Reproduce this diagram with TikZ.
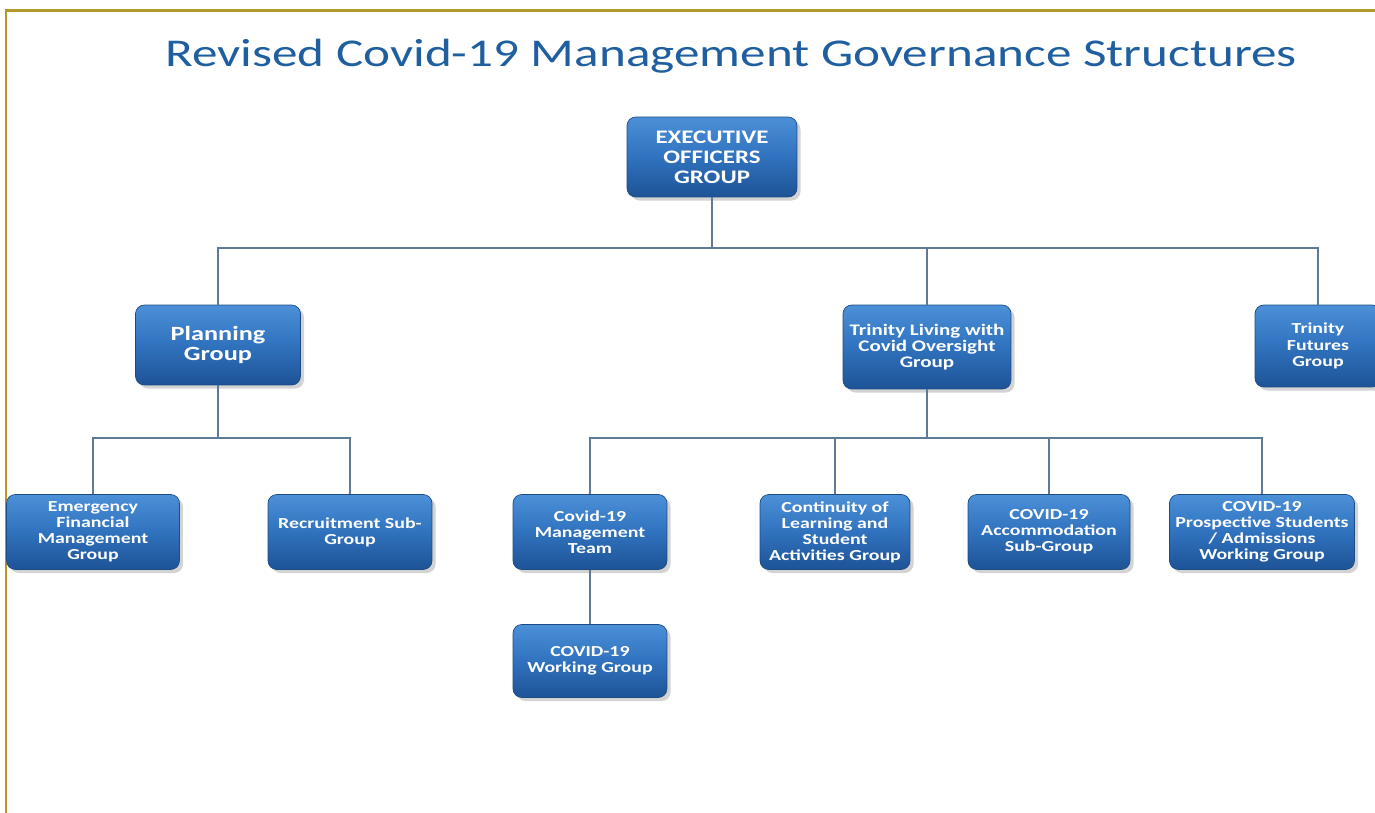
\documentclass[tikz,border=0pt]{standalone}
\usepackage{fontspec}
\setmainfont{Carlito}[FakeStretch=1.3]
\usetikzlibrary{shadows}

\definecolor{titleblue}{HTML}{1F5FA0}
\definecolor{boxtop}{HTML}{4C90D8}
\definecolor{boxmid}{HTML}{3072BE}
\definecolor{boxbot}{HTML}{1E5396}
\definecolor{boxedge}{HTML}{1B4A85}
\definecolor{linkgray}{HTML}{5F7A96}
\definecolor{framegold}{HTML}{B4962A}

\begin{document}
\begin{tikzpicture}[
	x=0.02cm,
	y=-0.02cm,
	group/.style={draw=boxedge, rounded corners=5pt,
		top color=boxtop, bottom color=boxbot, middle color=boxmid,
		text=white, align=center, inner sep=1pt,
		drop shadow={opacity=0.35, shadow xshift=2pt, shadow yshift=-2pt},
		append after command={
			[draw=white, draw opacity=0.35, line width=0.8pt, rounded corners=3pt]
			([shift={(3pt,3pt)}]\tikzlastnode.south west) rectangle
			([shift={(-3pt,-3pt)}]\tikzlastnode.north east)}},
	grptop/.style={group, font=\bfseries\fontsize{10.9}{11.4}\selectfont},
	grpmid/.style={group, font=\bfseries\fontsize{9.2}{9.3}\selectfont},
	grplow/.style={group, minimum height=1.5cm,
		font=\bfseries\fontsize{8.7}{9.1}\selectfont},
	link/.style={draw=linkgray, line width=0.7pt}]

\useasboundingbox (0,0) rectangle (1375,813);

% frame and title
\draw[framegold, line width=1.7pt] (6,813) -- (6,10.5) -- (1375,10.5);
\node[text=titleblue, anchor=base, font=\fontsize{22.4}{26}\selectfont]
	(title) at (731,67) {Revised Covid-19 Management Governance Structures};

% top of the tree
\node[grptop, minimum width=3.4cm, minimum height=1.6cm] (eog)
	at (712,157) {EXECUTIVE\\OFFICERS\\GROUP};

% second row
\node[grptop, minimum width=3.3cm, minimum height=1.6cm,
	font=\bfseries\fontsize{11.5}{11.6}\selectfont] (plan)
	at (218,345) {Planning\\Group};
\node[grpmid, minimum width=3.36cm, minimum height=1.68cm] (live)
	at (927,347) {Trinity Living with\\Covid Oversight\\Group};
\node[grpmid, minimum width=2.52cm, minimum height=1.64cm,
	font=\bfseries\fontsize{8.7}{9.3}\selectfont] (fut)
	at (1318,346) {Trinity\\Futures\\Group};

% third row
\node[grplow, minimum width=3.46cm] (emer)
	at (93,532) {Emergency\\Financial\\Management\\Group};
\node[grplow, minimum width=3.28cm] (recr)
	at (350,532) {Recruitment Sub-\\Group};
\node[grplow, minimum width=3.08cm] (mgmt)
	at (590,532) {Covid-19\\Management\\Team};
\node[grplow, minimum width=3.0cm] (cont)
	at (835,532) {Continuity of\\Learning and\\Student\\Activities Group};
\node[grplow, minimum width=3.24cm] (accom)
	at (1049,532) {COVID-19\\Accommodation\\Sub-Group};
\node[grplow, minimum width=3.7cm] (prosp)
	at (1262,532) {COVID-19\\Prospective Students\\/ Admissions\\Working Group};

% last row
\node[grplow, minimum width=3.08cm, minimum height=1.46cm] (work)
	at (590,661) {COVID-19\\Working Group};

% links
\coordinate (topbus) at (712,248);
\coordinate (planbus) at (218,438);
\coordinate (livebus) at (927,438);

\draw[link] (eog.south) -- (topbus);
\draw[link] (plan.north) |- (topbus) -| (fut.north);
\draw[link] (live.north) -- (live.north |- topbus);

\draw[link] (plan.south) -- (planbus);
\draw[link] (emer.north) |- (planbus) -| (recr.north);

\draw[link] (live.south) -- (livebus);
\draw[link] (mgmt.north) |- (livebus) -| (prosp.north);
\draw[link] (cont.north) -- (cont.north |- livebus);
\draw[link] (accom.north) -- (accom.north |- livebus);

\draw[link] (mgmt.south) -- (work.north);
\end{tikzpicture}
\end{document}
